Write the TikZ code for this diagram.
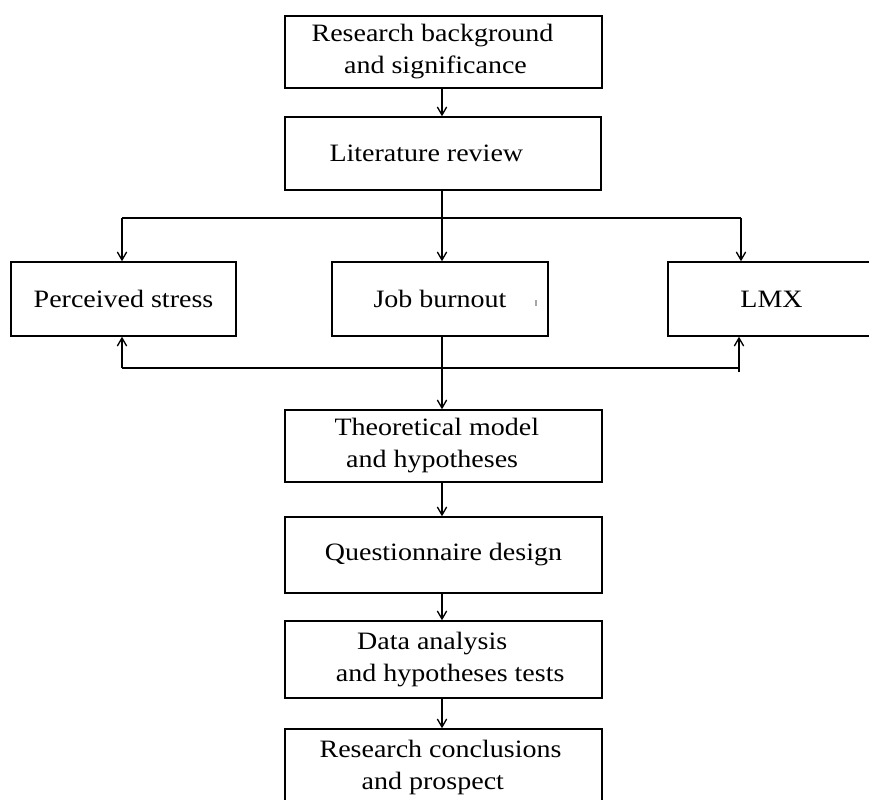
\documentclass[tikz,border=0pt]{standalone}
\usepackage{fontspec}
\setmainfont{Liberation Serif}[FakeStretch=1.12]
\usetikzlibrary{arrows.meta}
\begin{document}
\begin{tikzpicture}[x=0.75pt,y=-0.75pt,
  line width=1.1pt,
  font=\fontsize{18.75pt}{24pt}\selectfont,
  box/.style 2 args={draw=black, rectangle, inner sep=0pt, align=center,
    minimum width={#1*0.75pt}, minimum height={#2*0.75pt}},
  arr/.style={-{Straight Barb[length=6pt,width=7pt,line width=1pt]}}]
\useasboundingbox (0,0) rectangle (869,800);
\fill[white] (0,0) rectangle (869,800);
\clip (0,0) rectangle (869,800);

\node[box={317}{72}] (rb) at (443.5,52) {Research background\hspace*{16.5pt}\\and significance\hspace*{12pt}};
\node[box={316}{73}] (lit) at (443,153.5) {Literature review\hspace*{25pt}};
\node[box={225}{74}] (ps) at (123.5,299) {Perceived stress};
\node[box={216}{74}] (jb) at (440,299) {Job burnout};
\node[box={207}{74}] (lmx) at (771.5,299) {LMX};
\node[box={317}{72}] (tm) at (443.5,446) {Theoretical model\hspace*{10pt}\\and hypotheses\hspace*{17pt}};
\node[box={317}{76}] (qd) at (443.5,555) {Questionnaire design};
\node[box={317}{77}] (da) at (443.5,659.5) {Data analysis\hspace*{17pt}\\\hspace*{10pt}and hypotheses tests};
\node[box={317}{77}] (rc) at (443.5,767.5) {Research conclusions\hspace*{4.5pt}\\and prospect\hspace*{16pt}};

% stray mark
\draw[gray!70, line width=0.8pt] (536,300) -- (536,306);

\draw[arr] (rb.south -| 442,0) -- (lit.north -| 442,0);

\coordinate (bc) at (442,218);
\coordinate (bl) at (122,218);
\coordinate (brt) at (741,218);
\draw (lit.south -| bc) -- (bc);
\draw (bl) -- (brt);
\draw[arr] (bc) -- (bc |- jb.north);
\draw[arr] (bl) -- (bl |- ps.north);
\draw[arr] (brt) -- (brt |- lmx.north);

\coordinate (lc) at (442,368);
\coordinate (ll) at (122,368);
\coordinate (lr) at (739,368);
\draw (ll) -- (lr);
\draw[arr] (ll) -- (ll |- ps.south);
\draw[arr] ([yshift=-3pt]lr) -- (lr |- lmx.south);
\draw[arr] (jb.south -| lc) -- (tm.north -| lc);

\draw[arr] (tm.south -| lc) -- (qd.north -| lc);
\draw[arr] (qd.south -| lc) -- (da.north -| lc);
\draw[arr] (da.south -| lc) -- (rc.north -| lc);
\end{tikzpicture}
\end{document}
